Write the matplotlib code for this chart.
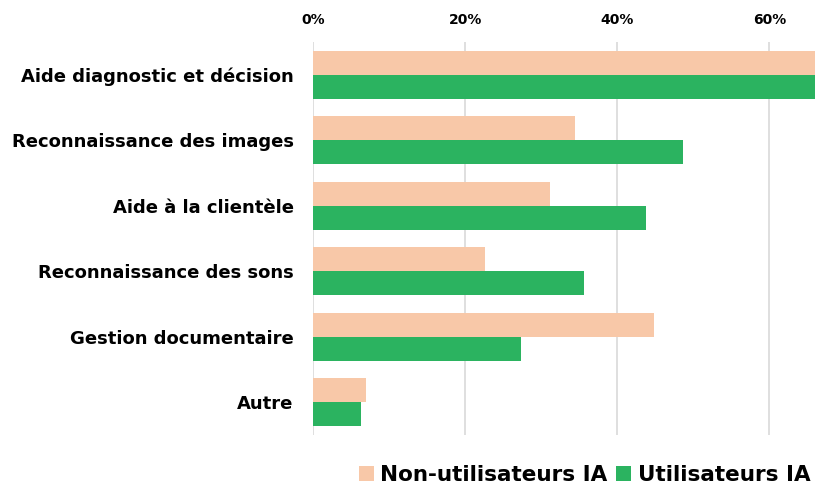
import matplotlib
matplotlib.use("Agg")
import matplotlib.pyplot as plt
import matplotlib.ticker as mticker
import numpy as np

# Data (percent)
categories = ["Aide diagnostic et décision", "Reconnaissance des images",
              "Aide à la clientèle", "Reconnaissance des sons",
              "Gestion documentaire", "Autre"]
non_users = [72.0, 34.4, 31.1, 22.6, 44.8, 7.0]
users = [76.0, 48.7, 43.8, 35.6, 27.3, 6.3]
series_names = ["Non-utilisateurs IA", "Utilisateurs IA"]
xticks = [0, 20, 40, 60]

orange = "#F8C8A8"
green = "#2BB360"

plt.rcParams["font.family"] = ["DejaVu Sans"]

fig = plt.figure(figsize=(8.15, 4.93), dpi=100)
ax = fig.add_axes([0.384, 0.118, 0.616, 0.797])

y = np.arange(len(categories))
h = 0.367
ax.barh(y - h / 2, non_users, height=h, color=orange, label=series_names[0], zorder=2)
ax.barh(y + h / 2, users, height=h, color=green, label=series_names[1], zorder=2)

ax.set_xlim(0, 66)
ax.set_ylim(len(categories) - 0.5, -0.5)
ax.set_xticks(xticks)
ax.xaxis.set_major_formatter(mticker.FuncFormatter(lambda v, p: "%d%%" % v))
ax.xaxis.tick_top()
ax.tick_params(axis="x", length=0, pad=11, labelsize=10)
for lab in ax.get_xticklabels():
    lab.set_fontweight("bold")
ax.set_yticks(y)
ax.set_yticklabels(categories, fontsize=13, fontweight="bold")
ax.tick_params(axis="y", length=0, pad=14)
ax.grid(axis="x", color="#d9d9d9", linewidth=1.2, zorder=0)
for s in ax.spines.values():
    s.set_visible(False)

fig.legend(loc="lower right", bbox_to_anchor=(1.01, -0.01), ncol=2, frameon=False,
           prop={"weight": "bold", "size": 15.5}, handlelength=0.7, handleheight=0.7,
           handletextpad=0.3, columnspacing=0.4, borderaxespad=0.2)

fig.savefig("out.png", dpi=100)
